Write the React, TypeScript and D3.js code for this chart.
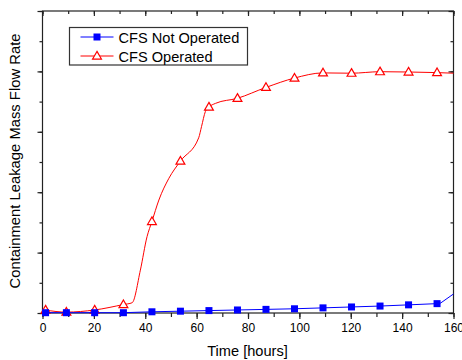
import React, { useRef, useEffect } from 'react';
import * as d3 from 'd3';

// marker positions (hours) shared by both series
const markerHours = [1.2, 9.3, 20.3, 31.5, 42.6, 53.7, 64.8, 75.9, 87.0, 98.1, 109.2, 120.3, 131.4, 142.5, 153.6];
const notOperatedValues = [0.01, 0.01, 0.01, 0.01, 0.04, 0.06, 0.08, 0.1, 0.12, 0.14, 0.17, 0.2, 0.23, 0.27, 0.31];
const operatedValues = [0.1, 0.03, 0.1, 0.28, 3.03, 5.03, 6.82, 7.11, 7.47, 7.78, 7.95, 7.94, 7.99, 7.98, 7.96];

// extra line vertices without markers
const notOperatedExtraHours = [0, 155, 160];
const notOperatedExtraValues = [0, 0.33, 0.63];
const operatedExtraHours = [0, 34.9, 38.1, 40.7, 45.3, 49.2, 60.8, 61.9, 63.4, 67.3, 160];
const operatedExtraValues = [0.12, 0.34, 1.42, 2.53, 3.74, 4.46, 5.8, 6.17, 6.67, 6.94, 7.94];

const xTickLabels = [0, 20, 40, 60, 80, 100, 120, 140, 160];
const legendLabels = ['CFS Not Operated', 'CFS Operated'];

const merge = (hA: number[], vA: number[], hB: number[], vB: number[]) =>
  hA.map((h, i) => [h, vA[i]] as [number, number])
    .concat(hB.map((h, i) => [h, vB[i]] as [number, number]))
    .sort((a, b) => a[0] - b[0]);

const App: React.FC = () => {
  const svgRef = useRef<SVGSVGElement>(null);

  useEffect(() => {
    const svg = d3.select(svgRef.current);
    svg.selectAll('*').remove();

    const left = 42.5, right = 453.5, top = 11, bottom = 313;
    const font = 'Arial, "Liberation Sans", sans-serif';
    const blue = '#0000ff';
    const red = '#ff0000';
    const axisColor = '#222';

    const x = d3.scaleLinear().domain([0, 160]).range([left, right]);
    const y = d3.scaleLinear().domain([0, 10]).range([bottom, top]);

    const minorX = d3.range(0, 161, 10);
    const minorY = d3.range(0, 11, 1);
    const majorY = d3.range(0, 11, 2);

    const styleAxis = (sel: d3.Selection<SVGGElement, unknown, null, undefined>) => {
      sel.select('.domain').remove();
      sel.selectAll('line').attr('stroke', axisColor).attr('stroke-width', 1.2);
    };

    // bottom axis (outward ticks)
    svg.append('g').attr('transform', `translate(0,${bottom})`)
      .call(d3.axisBottom(x).tickValues(minorX).tickSize(4).tickFormat(() => ''))
      .call(styleAxis);
    const bx = svg.append('g').attr('transform', `translate(0,${bottom})`)
      .call(d3.axisBottom(x).tickValues(xTickLabels).tickSize(6).tickPadding(4).tickFormat(d => `${d}`))
      .call(styleAxis);
    bx.selectAll('text').attr('font-family', font).attr('font-size', 12).attr('fill', '#000');

    // top axis (inward ticks)
    svg.append('g').attr('transform', `translate(0,${top})`)
      .call(d3.axisBottom(x).tickValues(minorX).tickSize(3).tickFormat(() => ''))
      .call(styleAxis);
    svg.append('g').attr('transform', `translate(0,${top})`)
      .call(d3.axisBottom(x).tickValues(xTickLabels).tickSize(5).tickFormat(() => ''))
      .call(styleAxis);

    // left axis (outward ticks)
    svg.append('g').attr('transform', `translate(${left},0)`)
      .call(d3.axisLeft(y).tickValues(minorY).tickSize(3).tickFormat(() => ''))
      .call(styleAxis);
    svg.append('g').attr('transform', `translate(${left},0)`)
      .call(d3.axisLeft(y).tickValues(majorY).tickSize(5).tickFormat(() => ''))
      .call(styleAxis);

    // right axis (inward ticks)
    svg.append('g').attr('transform', `translate(${right},0)`)
      .call(d3.axisLeft(y).tickValues(minorY).tickSize(3).tickFormat(() => ''))
      .call(styleAxis);
    svg.append('g').attr('transform', `translate(${right},0)`)
      .call(d3.axisLeft(y).tickValues(majorY).tickSize(5).tickFormat(() => ''))
      .call(styleAxis);

    // frame
    svg.append('rect')
      .attr('x', left).attr('y', top)
      .attr('width', right - left).attr('height', bottom - top)
      .attr('fill', 'none').attr('stroke', axisColor).attr('stroke-width', 1.2);

    const line = d3.line<[number, number]>().x(d => x(d[0])).y(d => y(d[1]));

    // CFS Operated (drawn first, sits under the blue)
    const operatedLine = merge(markerHours, operatedValues, operatedExtraHours, operatedExtraValues);
    svg.append('path')
      .datum(operatedLine)
      .attr('fill', 'none').attr('stroke', red).attr('stroke-width', 1)
      .attr('d', line.curve(d3.curveMonotoneX));

    const tri = d3.symbol().type(d3.symbolTriangle).size(34);
    svg.selectAll('.tri')
      .data(markerHours)
      .enter().append('path')
      .attr('class', 'tri')
      .attr('d', tri)
      .attr('transform', (d, i) => `translate(${x(d)},${y(operatedValues[i]) + 0.5})`)
      .attr('fill', 'white').attr('stroke', red).attr('stroke-width', 1.2);

    // CFS Not Operated
    const notOperatedLine = merge(markerHours, notOperatedValues, notOperatedExtraHours, notOperatedExtraValues);
    svg.append('path')
      .datum(notOperatedLine)
      .attr('fill', 'none').attr('stroke', blue).attr('stroke-width', 1)
      .attr('d', line.curve(d3.curveLinear));

    svg.selectAll('.sq')
      .data(markerHours)
      .enter().append('rect')
      .attr('class', 'sq')
      .attr('x', d => x(d) - 3.5)
      .attr('y', (d, i) => y(notOperatedValues[i]) - 3.5)
      .attr('width', 7).attr('height', 7)
      .attr('fill', blue);

    // legend
    const lg = svg.append('g');
    lg.append('rect')
      .attr('x', 69.5).attr('y', 27.5).attr('width', 178).attr('height', 37.5)
      .attr('fill', 'white').attr('stroke', '#333').attr('stroke-width', 1.2);

    lg.append('line').attr('x1', 80.5).attr('x2', 113.5).attr('y1', 37).attr('y2', 37)
      .attr('stroke', blue).attr('stroke-width', 1);
    lg.append('rect').attr('x', 93.5).attr('y', 33.5).attr('width', 7).attr('height', 7).attr('fill', blue);
    lg.append('line').attr('x1', 80.5).attr('x2', 113.5).attr('y1', 56).attr('y2', 56)
      .attr('stroke', red).attr('stroke-width', 1);
    lg.append('path').attr('d', tri).attr('transform', 'translate(97,56.5)')
      .attr('fill', 'white').attr('stroke', red).attr('stroke-width', 1.2);

    legendLabels.forEach((t, i) => {
      lg.append('text')
        .attr('x', 118.5).attr('y', 42.5 + i * 19)
        .attr('font-family', font).attr('font-size', 14.6).attr('fill', '#000')
        .text(t);
    });

    // axis titles
    svg.append('text')
      .attr('x', (left + right) / 2 - 0.5).attr('y', 356)
      .attr('text-anchor', 'middle')
      .attr('font-family', font).attr('font-size', 14.6).attr('fill', '#000')
      .text('Time [hours]');

    svg.append('text')
      .attr('transform', `translate(20,161) rotate(-90)`)
      .attr('text-anchor', 'middle')
      .attr('font-family', font).attr('font-size', 14.8).attr('fill', '#000')
      .text('Containment Leakage Mass Flow Rate');
  }, []);

  return (
    <svg ref={svgRef} width={462} height={360}
      style={{ position: 'absolute', left: 0, top: 0, background: 'white' }} />
  );
};

export default App;
